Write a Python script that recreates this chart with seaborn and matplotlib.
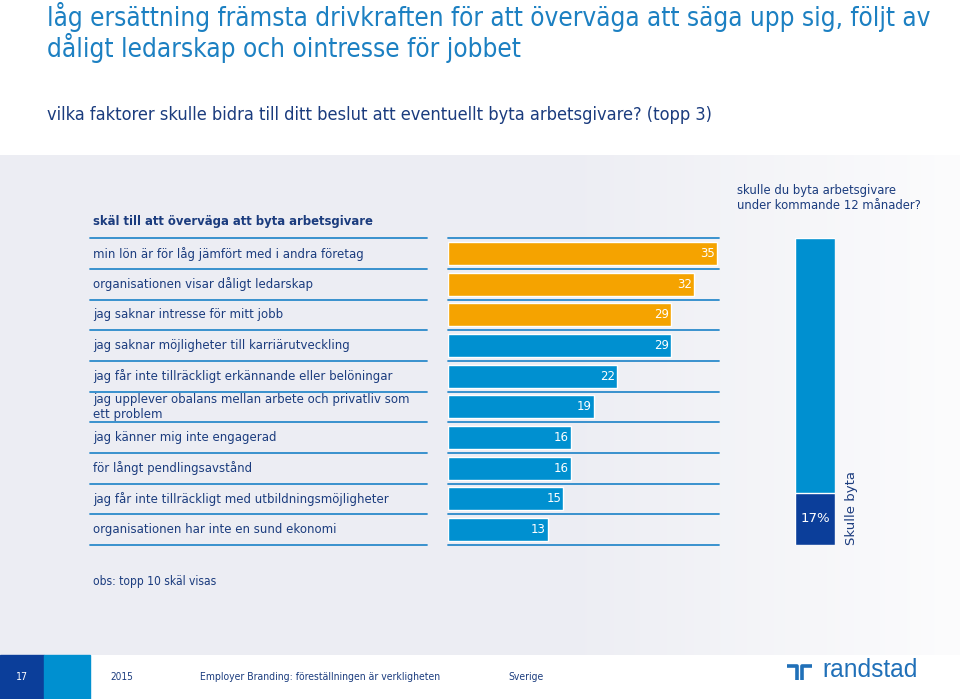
import numpy as np
import matplotlib
matplotlib.use("Agg")
import matplotlib.pyplot as plt
import matplotlib.transforms as mtransforms
from matplotlib import font_manager
from matplotlib.patches import Rectangle
import seaborn as sns

# ---- data ----
reasons = [
    "min lön är för låg jämfört med i andra företag",
    "organisationen visar dåligt ledarskap",
    "jag saknar intresse för mitt jobb",
    "jag saknar möjligheter till karriärutveckling",
    "jag får inte tillräckligt erkännande eller belöningar",
    "jag upplever obalans mellan arbete och privatliv som\nett problem",
    "jag känner mig inte engagerad",
    "för långt pendlingsavstånd",
    "jag får inte tillräckligt med utbildningsmöjligheter",
    "organisationen har inte en sund ekonomi",
]
shares = [35, 32, 29, 29, 22, 19, 16, 16, 15, 13]
groups = ["topp 3"] * 3 + ["övriga"] * 7

switchTotal = 100
switchYes = 17

# ---- style ----
ORANGE = "#F5A300"
BLUE = "#0090D0"
DARK = "#0B3E9A"
NAVY = "#1B3C7E"
LINE = "#2B8ACB"
TITLE = "#1C80C2"

sns.set_theme(style="white")
plt.rcParams["font.family"] = ["DejaVu Sans"]

# pick a narrow face for the headline texts if one is installed
fontNames = {(f.name, f.stretch) for f in font_manager.fontManager.ttflist}
if any(n == "Liberation Sans Narrow" for n, s in fontNames):
    narrow = dict(family="Liberation Sans Narrow")
elif ("DejaVu Sans", "condensed") in fontNames or ("DejaVu Sans", 300) in fontNames:
    narrow = dict(family="DejaVu Sans", fontstretch="condensed")
else:
    narrow = dict(family="Liberation Sans")

fig = plt.figure(figsize=(9.6, 6.99), dpi=100, facecolor="white")
renderer = fig.canvas.get_renderer()

# background layer in pixel coordinates
bg = fig.add_axes([0, 0, 1, 1], zorder=-5)
bg.set_xlim(0, 960)
bg.set_ylim(699, 0)
bg.axis("off")


def fitText(x, y, s, width, size, **kw):
    # place text and shrink/grow it so it spans roughly the given pixel width
    t = bg.text(x, y, s, fontsize=size, **kw)
    w = t.get_window_extent(renderer=renderer).width
    t.set_fontsize(size * width / w)
    return t


grad = np.ones((2, 960, 3))
start = np.array([236, 237, 243]) / 255
end = np.array([252, 252, 253]) / 255
t = np.clip((np.arange(960) - 560) / 400, 0, 1)[:, None]
grad[:] = start * (1 - t) + end * t
bg.imshow(grad, extent=(0, 960, 655, 155), aspect="auto", zorder=0)
bg.add_patch(Rectangle((0, 655), 44, 44, color=DARK, zorder=1))
bg.add_patch(Rectangle((44, 655), 46, 44, color=BLUE, zorder=1))

fitText(47, 26, "låg ersättning främsta drivkraften för att överväga att säga upp sig, följt av",
        883, 20, color=TITLE, va="baseline", **narrow)
fitText(47, 57, "dåligt ledarskap och ointresse för jobbet",
        475, 20, color=TITLE, va="baseline", **narrow)
fitText(47, 115, "vilka faktorer skulle bidra till ditt beslut att eventuellt byta arbetsgivare? (topp 3)",
        666, 13, color=NAVY, va="center", **narrow)
bg.text(93, 222, "skäl till att överväga att byta arbetsgivare",
        fontsize=8.4, fontweight="bold", color=NAVY, va="center")
bg.text(737, 198, "skulle du byta arbetsgivare\nunder kommande 12 månader?",
        fontsize=8.4, color=NAVY, va="center", linespacing=1.25)
fitText(93, 582, "obs: topp 10 skäl visas", 123, 9, color=NAVY, va="center", **narrow)

# footer
fitText(16, 677, "17", 12, 9, color="white", va="center", **narrow)
fitText(110, 677, "2015", 23, 9, color=NAVY, va="center", **narrow)
fitText(200, 677, "Employer Branding: föreställningen är verkligheten", 241, 9,
        color=NAVY, va="center", **narrow)
fitText(508, 677, "Sverige", 35, 9, color=NAVY, va="center", **narrow)
fitText(822, 670, "randstad", 96, 16, color="#2070B8", va="center", family="Liberation Sans")
bg.plot([787, 797, 797], [666, 666, 680], color="#2070B8", lw=2.6, solid_capstyle="butt")
bg.plot([802, 802, 812], [680, 666, 666], color="#2070B8", lw=2.6, solid_capstyle="butt")

# ---- main horizontal bars ----
ax = fig.add_axes([448 / 960, 1 - 545 / 699, 270.7 / 960, (545 - 238.3) / 699])
sns.barplot(x=shares, y=reasons, hue=groups, palette={"topp 3": ORANGE, "övriga": BLUE},
            dodge=False, legend=False, width=0.75, saturation=1, orient="h", ax=ax)
ax.set_xlim(0, 35.25)
ax.set_ylim(9.5, -0.5)
ax.set_facecolor("none")
ax.axis("off")

for i, v in enumerate(shares):
    ax.text(v - 0.25, i, str(v), ha="right", va="center", color="white", fontsize=8.5)

blend = mtransforms.blended_transform_factory(bg.transData, ax.transData)
for i, name in enumerate(reasons):
    ax.text(93, i, name, transform=blend, ha="left", va="center", color=NAVY,
            fontsize=8.5, linespacing=1.25)
for b in np.arange(-0.5, len(reasons)):
    ax.plot([90, 427], [b, b], transform=blend, color=LINE, lw=1.3, clip_on=False)
    ax.plot([448, 718.7], [b, b], transform=blend, color=LINE, lw=1.3, clip_on=False)

# ---- right stacked column ----
ax2 = fig.add_axes([795 / 960, 1 - 545 / 699, 40 / 960, 307 / 699])
sns.barplot(x=["skulle byta"], y=[switchTotal], color=BLUE, saturation=1, width=1, ax=ax2)
sns.barplot(x=["skulle byta"], y=[switchYes], color=DARK, saturation=1, width=1, ax=ax2)
ax2.set_ylim(0, switchTotal)
ax2.set_xlim(-0.5, 0.5)
ax2.axis("off")
ax2.text(0, switchYes / 2, f"{switchYes}%", ha="center", va="center", color="white", fontsize=9.5)
ax2.text(1.42, 0, "Skulle byta", transform=ax2.transAxes, rotation=90,
         ha="center", va="bottom", color=NAVY, fontsize=9.5)

fig.savefig("out.png", dpi=100, facecolor="white")
